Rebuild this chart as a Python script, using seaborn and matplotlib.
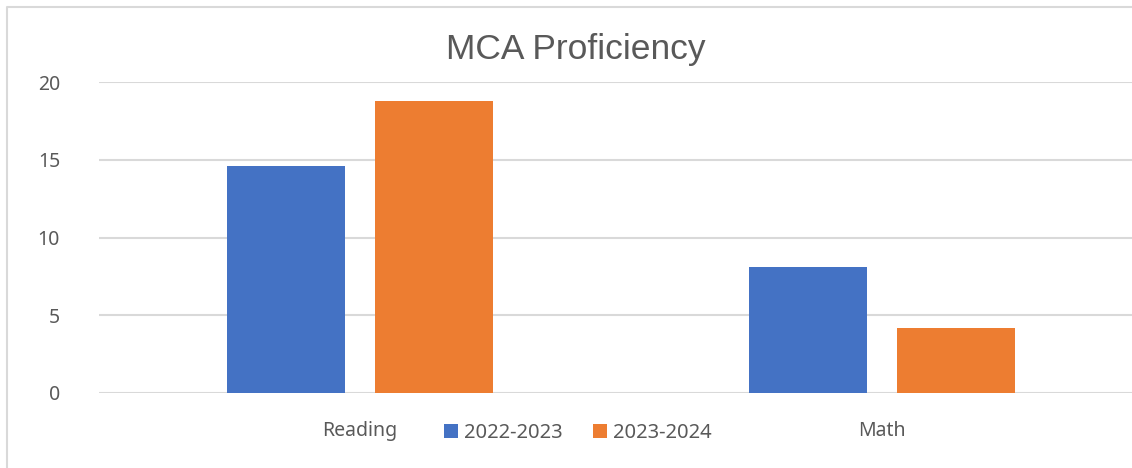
import pandas as pd
import matplotlib.pyplot as plt
import seaborn as sns
from matplotlib.lines import Line2D

subjects = ['Reading', 'Math']
years = ['2022-2023', '2023-2024']
scores_2022 = [14.6, 8.1]
scores_2023 = [18.8, 4.2]
yticks = [0, 5, 10, 15, 20]

df = pd.DataFrame({
    'Subject': subjects * 2,
    'Year': [years[0]] * 2 + [years[1]] * 2,
    'Score': scores_2022 + scores_2023,
})

sns.set_style('white')
plt.rcParams['font.family'] = ['Noto Sans', 'DejaVu Sans']
grey = '#595959'

fig = plt.figure(figsize=(11.32, 4.68), dpi=100)
W, H = 1132, 468
ax = fig.add_axes([99 / W, (H - 393) / H, (1143 - 99) / W, (393 - 82) / H])

sns.barplot(data=df, x='Subject', y='Score', hue='Year', order=subjects, hue_order=years,
            palette=['#4472C4', '#ED7D31'], width=0.567, gap=0.2, ax=ax,
            saturation=1, legend=True, linewidth=0, zorder=3)

ax.set_xlim(-0.5, 1.5)
ax.set_ylim(0, 20)
ax.set_yticks(yticks)
ax.yaxis.grid(True, color='#D9D9D9', linewidth=1.5, zorder=0)
ax.set_axisbelow(True)
for s in ax.spines.values():
    s.set_visible(False)
ax.set_xlabel('')
ax.set_ylabel('')
ax.tick_params(axis='y', length=0, pad=28, labelsize=14, labelcolor=grey)
ax.tick_params(axis='x', length=0, pad=20, labelsize=14, labelcolor=grey)

fig.text(576 / W, (H - 50) / H, 'MCA Proficiency', ha='center', va='center',
         fontsize=25.5, color=grey, family=['Liberation Sans', 'DejaVu Sans'])

ax.legend(loc='center', bbox_to_anchor=(578 / W, (H - 433) / H), bbox_transform=fig.transFigure,
          ncol=2, frameon=False, fontsize=14.5, labelcolor=grey, handlelength=0.7,
          handleheight=0.7, handletextpad=0.3, columnspacing=1.5)

# chart frame (top and left edges visible in the crop)
fig.add_artist(Line2D([7 / W, 7 / W, 1.0], [0, (H - 7) / H, (H - 7) / H], transform=fig.transFigure,
                      color='#D9D9D9', linewidth=1.5))

plt.savefig('out.png', dpi=100)
